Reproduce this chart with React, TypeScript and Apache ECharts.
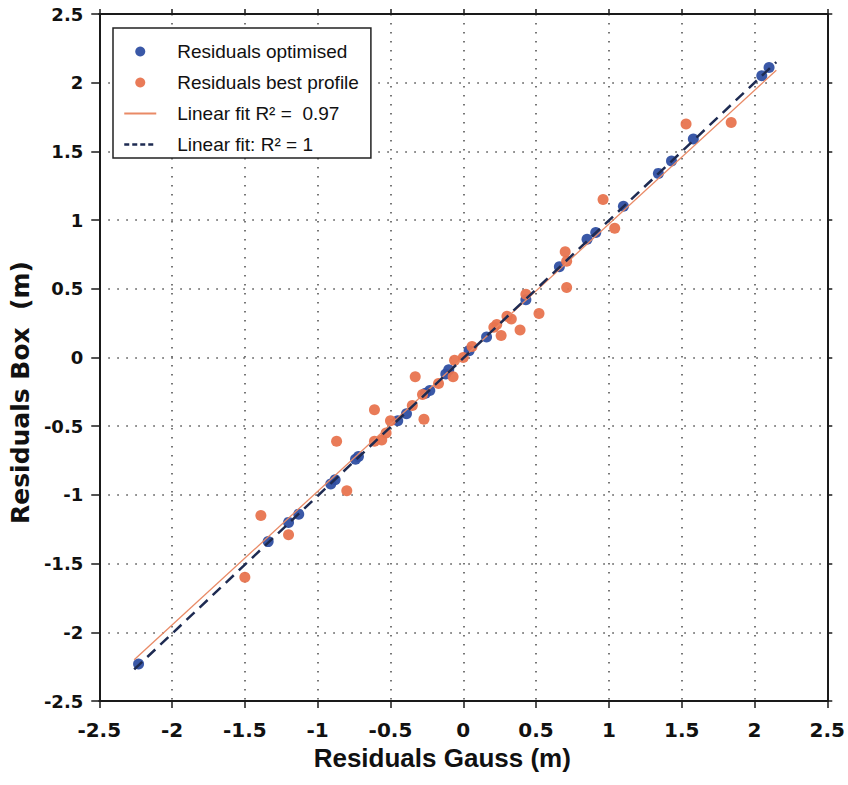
import React, { useEffect, useRef } from "react";
import * as echarts from "echarts";

// Residuals optimised (blue): [Gauss, Box]
const optimisedX = [-2.23, -1.34, -1.2, -1.13, -0.91, -0.88, -0.74, -0.72, -0.45, -0.39, -0.26, -0.23, -0.12, -0.1, 0.04, 0.16, 0.43, 0.66, 0.85, 0.91, 1.1, 1.34, 1.43, 1.58, 2.05, 2.1];
const optimisedY = [-2.23, -1.34, -1.2, -1.14, -0.92, -0.89, -0.74, -0.72, -0.46, -0.41, -0.26, -0.24, -0.12, -0.09, 0.05, 0.15, 0.42, 0.66, 0.86, 0.91, 1.1, 1.34, 1.43, 1.59, 2.05, 2.11];

// Residuals best profile (orange)
const bestX = [1.53, 1.84, 0.96, 1.04, 0.7, 0.71, 0.71, 0.43, 0.52, 0.39, 0.33, 0.3, 0.26, 0.23, 0.21, 0.06, 0.0, -0.06, -0.07, -0.33, -0.17, -0.28, -0.35, -0.61, -0.27, -0.5, -0.53, -0.56, -0.61, -0.87, -0.8, -1.39, -1.2, -1.5];
const bestY = [1.7, 1.71, 1.15, 0.94, 0.77, 0.7, 0.51, 0.46, 0.32, 0.2, 0.28, 0.3, 0.16, 0.24, 0.22, 0.08, 0.0, -0.02, -0.14, -0.14, -0.19, -0.27, -0.35, -0.38, -0.45, -0.46, -0.55, -0.6, -0.61, -0.61, -0.97, -1.15, -1.29, -1.6];

// Fit lines (end points)
const fitBestX = [-2.26, 2.15];
const fitBestY = [-2.2, 2.09];
const fitOptX = [-2.26, 2.15];
const fitOptY = [-2.27, 2.15];

const seriesNames = [
  "Residuals optimised",
  "Residuals best profile",
  "Linear fit R\u00B2 =  0.97",
  "Linear fit: R\u00B2 = 1",
];

const xTitle = "Residuals Gauss (m)";
const yTitle = "Residuals Box  (m)";

const zip = (xs: number[], ys: number[]) => xs.map((x, i) => [x, ys[i]]);

const BLUE = "#2f4fa2";
const ORANGE = "#e8744f";
const DASH = "#1e2b52";
const FITORANGE = "#e98a66";
const AXIS = "#1a1a1a";
const GRIDC = "#555555";

export default function App() {
  const ref = useRef<HTMLDivElement>(null);
  useEffect(() => {
    if (!ref.current) return;
    const chart = echarts.init(ref.current, null, { renderer: "svg" });
    const tickFont = { fontFamily: "'DejaVu Sans', sans-serif", fontWeight: "bold" as const, color: "#111" };
    chart.setOption({
      animation: false,
      backgroundColor: "#fff",
      grid: { left: 98, top: 14, width: 730, height: 687, containLabel: false },
      legend: {
        orient: "vertical",
        left: 113,
        top: 28,
        data: [
          { name: seriesNames[0] },
          { name: seriesNames[1] },
          { name: seriesNames[2], itemStyle: { opacity: 0 } },
          { name: seriesNames[3], itemStyle: { opacity: 0 }, lineStyle: { type: [5, 3], width: 2.5 } },
        ],
        itemWidth: 32,
        itemHeight: 10,
        itemGap: 12,
        padding: [14, 12, 4, 10],
        backgroundColor: "#fff",
        borderColor: "#222",
        borderWidth: 1.5,
        borderRadius: 0,
        textStyle: {
          fontFamily: "'Liberation Sans', Arial, sans-serif",
          fontSize: 19,
          color: "#111",
          padding: [0, 0, 0, 16],
        },
      },
      xAxis: [
        {
          type: "value",
          min: -2.5,
          max: 2.5,
          interval: 0.5,
          name: xTitle,
          nameLocation: "middle",
          nameGap: 42,
          nameTextStyle: {
            fontFamily: "'Liberation Sans', Arial, sans-serif",
            fontWeight: "bold",
            fontSize: 26,
            color: "#111",
            padding: [0, 42, 0, 0],
          },
          axisLine: { show: true, onZero: false, lineStyle: { color: AXIS, width: 2 } },
          axisTick: { show: true, inside: false, length: 7, lineStyle: { color: AXIS, width: 1.5 } },
          axisLabel: { ...tickFont, fontSize: 20, margin: 19 },
          splitLine: { show: true, lineStyle: { color: GRIDC, width: 1.6, type: [1.6, 7.4] } },
        },
        {
          type: "value",
          position: "top",
          min: -2.5,
          max: 2.5,
          interval: 0.5,
          axisLine: { show: true, onZero: false, lineStyle: { color: AXIS, width: 2 } },
          axisTick: { show: true, inside: false, length: 5, lineStyle: { color: AXIS, width: 1.5 } },
          axisLabel: { show: false },
          splitLine: { show: false },
        },
      ],
      yAxis: [
        {
          type: "value",
          min: -2.5,
          max: 2.5,
          interval: 0.5,
          name: yTitle,
          nameLocation: "middle",
          nameGap: 65,
          nameTextStyle: {
            fontFamily: "'DejaVu Sans', sans-serif",
            fontWeight: "bold",
            fontSize: 25,
            color: "#111",
            padding: [0, 70, 0, 0],
          },
          axisLine: { show: true, onZero: false, lineStyle: { color: AXIS, width: 2 } },
          axisTick: { show: true, inside: false, length: 8, lineStyle: { color: AXIS, width: 1.5 } },
          axisLabel: { ...tickFont, fontSize: 18, margin: 16 },
          splitLine: { show: true, lineStyle: { color: GRIDC, width: 1.6, type: [1.6, 7.4] } },
        },
        {
          type: "value",
          position: "right",
          min: -2.5,
          max: 2.5,
          interval: 0.5,
          axisLine: { show: true, onZero: false, lineStyle: { color: AXIS, width: 2 } },
          axisTick: { show: true, inside: false, length: 5, lineStyle: { color: AXIS, width: 1.5 } },
          axisLabel: { show: false },
          splitLine: { show: false },
        },
      ],
      series: [
        {
          name: seriesNames[0],
          type: "scatter",
          data: zip(optimisedX, optimisedY),
          symbol: "circle",
          symbolSize: 11,
          itemStyle: { color: BLUE, opacity: 0.95 },
          z: 2,
        },
        {
          name: seriesNames[1],
          type: "scatter",
          data: zip(bestX, bestY),
          symbol: "circle",
          symbolSize: 11,
          itemStyle: { color: ORANGE, opacity: 0.95 },
          z: 3,
        },
        {
          name: seriesNames[2],
          type: "line",
          data: zip(fitBestX, fitBestY),
          symbol: "none",
          showSymbol: false,
          lineStyle: { color: FITORANGE, width: 1.3 },
          itemStyle: { color: FITORANGE },
          z: 4,
        },
        {
          name: seriesNames[3],
          type: "line",
          data: zip(fitOptX, fitOptY),
          symbol: "none",
          showSymbol: false,
          lineStyle: { color: DASH, width: 2.5, type: [11, 7] },
          itemStyle: { color: DASH },
          z: 5,
        },
      ],
    });
    return () => chart.dispose();
  }, []);
  return (
    <div
      ref={ref}
      style={{ position: "absolute", left: 0, top: 0, width: 848, height: 785 }}
    />
  );
}
